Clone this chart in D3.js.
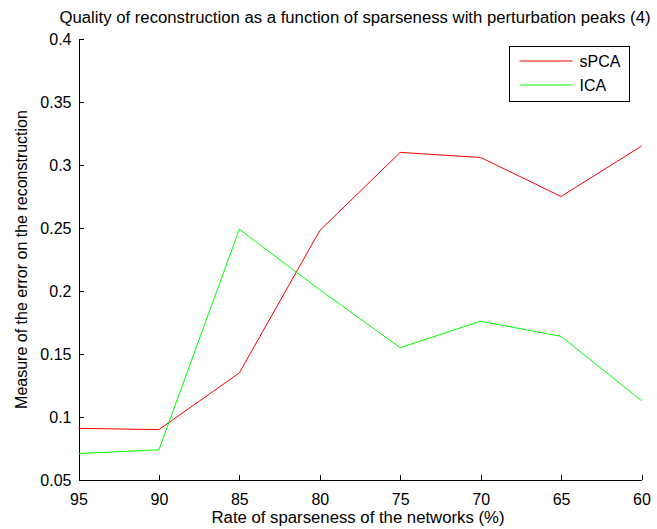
<!DOCTYPE html>
<html>
<head>
<meta charset="utf-8">
<script src="https://cdn.jsdelivr.net/npm/d3@7"></script>
<style>
  html, body { margin: 0; padding: 0; background: #fff; }
  svg { display: block; }
  text { font-family: "Liberation Sans", Arial, Helvetica, sans-serif; fill: #000; }
</style>
</head>
<body>
<svg id="chart" width="657" height="529"></svg>
<script>
// Sparseness rates (%), plotted with the axis reversed (95 on the left)
const sparseness = [95, 90, 85, 80, 75, 70, 65, 60];
// Reconstruction error for each method
const spcaError = [0.091, 0.090, 0.135, 0.248, 0.310, 0.306, 0.275, 0.315];
const icaError  = [0.071, 0.074, 0.249, 0.201, 0.155, 0.176, 0.164, 0.113];
const yTicks = [0.05, 0.1, 0.15, 0.2, 0.25, 0.3, 0.35, 0.4];
const seriesNames = ["sPCA", "ICA"];
const seriesColors = ["#ff0000", "#00ff00"];

const svg = d3.select("#chart");
const plot = { left: 78.5, right: 641.5, top: 39, bottom: 480 };
const fontSize = 16;

const x = d3.scaleLinear().domain([95, 60]).range([plot.left, plot.right]);
const y = d3.scaleLinear().domain([0.05, 0.4]).range([plot.bottom, plot.top]);

// Axes: ticks point into the plot, no box on top/right
const xAxis = d3.axisBottom(x).tickValues(sparseness).tickFormat(d3.format("d"))
  .tickSizeInner(-5).tickSizeOuter(0).tickPadding(14);
const yAxis = d3.axisLeft(y).tickValues(yTicks).tickFormat(d => String(+d.toFixed(2)))
  .tickSizeInner(-5).tickSizeOuter(0).tickPadding(7);

const gx = svg.append("g").attr("transform", `translate(0,${plot.bottom})`).call(xAxis);
const gy = svg.append("g").attr("transform", `translate(${plot.left},0)`).call(yAxis);
[gx, gy].forEach(g => {
  g.selectAll("path, line").attr("stroke", "#000").attr("stroke-width", 1).attr("shape-rendering", "crispEdges");
  g.selectAll("text").attr("font-size", fontSize).attr("font-family", null);
});

// Data lines
const series = [spcaError, icaError];
const line = d3.line().x((d, i) => x(sparseness[i])).y(d => y(d));
series.forEach((vals, k) => {
  svg.append("path")
    .datum(vals)
    .attr("fill", "none")
    .attr("stroke", seriesColors[k])
    .attr("stroke-width", 1)
    .attr("d", line);
});

// Title and axis labels
svg.append("text").attr("x", 355).attr("y", 23)
  .attr("text-anchor", "middle").attr("font-size", fontSize)
  .attr("textLength", 591).attr("lengthAdjust", "spacingAndGlyphs")
  .text("Quality of reconstruction as a function of sparseness with perturbation peaks (4)");
svg.append("text").attr("x", 358).attr("y", 523)
  .attr("text-anchor", "middle").attr("font-size", fontSize)
  .attr("textLength", 293).attr("lengthAdjust", "spacingAndGlyphs")
  .text("Rate of sparseness of the networks (%)");
svg.append("text").attr("transform", `translate(27,${(plot.top + plot.bottom) / 2}) rotate(-90)`)
  .attr("text-anchor", "middle").attr("font-size", fontSize)
  .text("Measure of the error on the reconstruction");

// Legend
const lg = svg.append("g").attr("transform", "translate(509.5,46.5)");
lg.append("rect").attr("width", 120).attr("height", 55)
  .attr("fill", "#fff").attr("stroke", "#000").attr("stroke-width", 1);
seriesNames.forEach((name, k) => {
  const ly = 14.5 + k * 24;
  lg.append("line").attr("x1", 10).attr("x2", 63).attr("y1", ly).attr("y2", ly)
    .attr("stroke", seriesColors[k]).attr("stroke-width", 1);
  lg.append("text").attr("x", 70).attr("y", ly).attr("dy", "0.35em")
    .attr("font-size", fontSize).text(name);
});
</script>
</body>
</html>
